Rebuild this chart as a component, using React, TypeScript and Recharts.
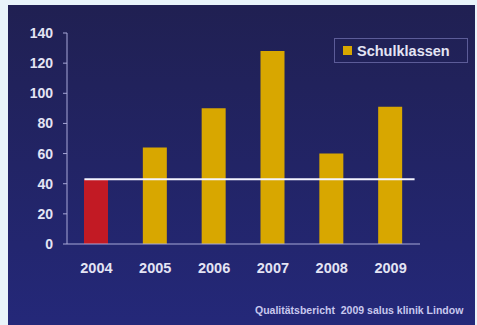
import { ComposedChart, Bar, Cell, XAxis, YAxis, ReferenceLine, Legend } from 'recharts'

const years = ['2004', '2005', '2006', '2007', '2008', '2009']
const schulklassen = [43, 64, 90, 128, 60, 91]
const baseline = 43
const yTicks = [0, 20, 40, 60, 80, 100, 120, 140]

const data = years.map((year, i) => ({ year, value: schulklassen[i] }))

const GOLD = '#d8a700'
const RED = '#c21a24'
const TEXT = '#e4e4f4'
const AXIS = '#a8a8d8'

function LegendBox() {
  return (
    <div
      style={{
        width: 134,
        height: 25,
        border: '1px solid #5c5c98',
        display: 'flex',
        alignItems: 'center',
        gap: 5,
        paddingLeft: 8,
        boxSizing: 'border-box',
      }}
    >
      <span style={{ width: 9, height: 9, background: GOLD, display: 'inline-block' }} />
      <span style={{ color: TEXT, fontSize: 14.5, fontWeight: 'bold' }}>Schulklassen</span>
    </div>
  )
}

// white target line: starts at the 2004 bar and runs a bit past the last bar
function BaseLine(props: any) {
  const { x1, x2, y1, y2 } = props
  return <line x1={x1 - 12} x2={x2 + 24} y1={y1} y2={y2} stroke="#f4f4ff" strokeWidth={2} />
}

export default function App() {
  return (
    <div
      style={{
        position: 'fixed',
        left: 0,
        top: 0,
        width: 477,
        height: 325,
        overflow: 'hidden',
        background: '#e9f4fa',
        fontFamily: '"Liberation Sans", Arial, sans-serif',
      }}
    >
      <div
        style={{
          position: 'absolute',
          left: 8,
          top: 5,
          width: 467,
          height: 320,
          background: 'linear-gradient(#202052, #242879)',
        }}
      >
        <ComposedChart
          width={467}
          height={320}
          data={data}
          margin={{ top: 28, right: 55, left: 0, bottom: 0 }}
        >
          <XAxis
            dataKey="year"
            height={81}
            stroke={AXIS}
            tickLine={false}
            tickMargin={13}
            tick={{ fill: TEXT, fontSize: 14.5, fontWeight: 'bold' }}
          />
          <YAxis
            width={59}
            domain={[0, 140]}
            ticks={yTicks}
            stroke={AXIS}
            tickSize={4}
            tickMargin={10}
            tick={{ fill: TEXT, fontSize: 14, fontWeight: 'bold' }}
          />
          <Legend
            verticalAlign="middle"
            align="center"
            wrapperStyle={{ top: 33, left: 326, width: 134 }}
            content={() => <LegendBox />}
          />
          <Bar dataKey="value" name="Schulklassen" barSize={24} fill={GOLD} isAnimationActive={false}>
            {data.map((d, i) => (
              <Cell key={d.year} fill={i === 0 ? RED : GOLD} />
            ))}
          </Bar>
          <ReferenceLine
            segment={[
              { x: years[0], y: baseline },
              { x: years[years.length - 1], y: baseline },
            ]}
            shape={BaseLine}
          />
        </ComposedChart>
        <div
          style={{
            position: 'absolute',
            left: 247,
            top: 299,
            color: '#c8c8ee',
            fontSize: 10.5,
            fontWeight: 'bold',
            whiteSpace: 'nowrap',
          }}
        >
          Qualitätsbericht&nbsp; 2009 salus klinik Lindow
        </div>
      </div>
    </div>
  )
}
